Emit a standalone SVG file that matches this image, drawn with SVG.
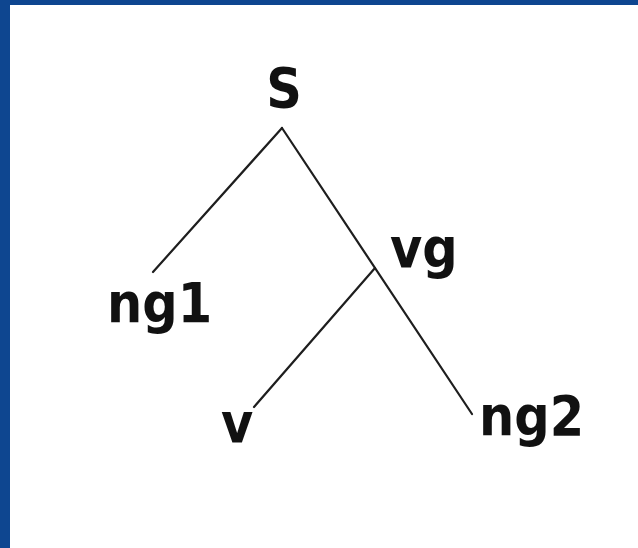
<svg xmlns="http://www.w3.org/2000/svg" width="638" height="548" viewBox="0 0 638 548">
  <style>
    .lbl { font-family: "DejaVu Sans Condensed", "DejaVu Sans", sans-serif; font-stretch: condensed; font-weight: bold; font-size: 55px; fill: #111; }
    .edge { stroke: #1e1e1e; stroke-width: 2.2; fill: none; stroke-linecap: round; }
  </style>
  <!-- blue frame -->
  <rect x="0" y="0" width="638" height="548" fill="#0e4690"/>
  <rect x="10" y="5" width="628" height="543" fill="#ffffff"/>

  <g id="connectors">
    <line class="edge" x1="282" y1="128" x2="153" y2="272"/>
    <line class="edge" x1="282" y1="128" x2="472" y2="414"/>
    <line class="edge" x1="375" y1="268" x2="254" y2="407"/>
  </g>

  <g id="node-s"><text class="lbl" x="284" y="107" text-anchor="middle">S</text></g>
  <g id="node-ng1"><text class="lbl" x="107" y="322">ng1</text></g>
  <g id="node-vg"><text class="lbl" x="390" y="267">vg</text></g>
  <g id="node-v"><text class="lbl" x="221" y="442">v</text></g>
  <g id="node-ng2"><text class="lbl" x="479" y="435">ng2</text></g>
</svg>
